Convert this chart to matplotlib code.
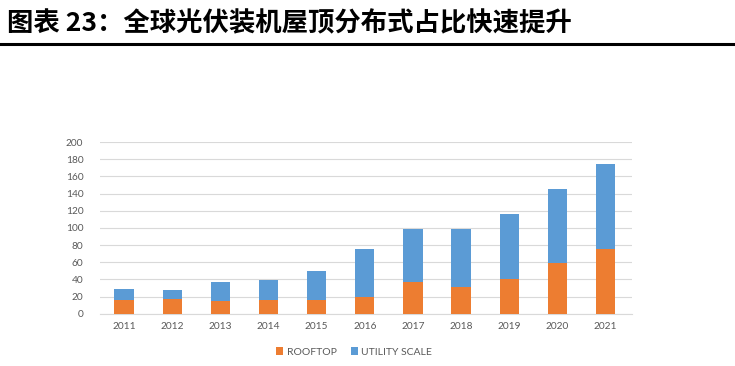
import numpy as np
import matplotlib.pyplot as plt

# Daten
years = ['2011', '2012', '2013', '2014', '2015', '2016', '2017', '2018', '2019', '2020', '2021']
rooftop = [16, 17, 15, 16, 16.5, 19, 37.5, 31.5, 41, 59, 75.5]
total = [29, 28, 36.5, 39, 50, 75, 99, 99, 116, 145, 174]
utility = [t - r for t, r in zip(total, rooftop)]

plt.rcParams['font.family'] = ['Lato', 'DejaVu Sans']

fig = plt.figure(figsize=(7.35, 3.66), dpi=100)

# Titel und Linie
fig.text(0.009, 0.935, '图表 23：全球光伏装机屋顶分布式占比快速提升', fontsize=19, fontweight='bold',
         family=['Noto Sans CJK SC', 'DejaVu Sans'], va='center', ha='left', color='black')
fig.add_artist(plt.Line2D([0, 1], [0.88, 0.88], color='black', lw=2.2))

ax = fig.add_axes([100 / 735, 1 - 313.7 / 366, 532 / 735, 171.7 / 366])
x = np.arange(len(years))
ax.bar(x, rooftop, width=0.4, color='#ED7D31', label='ROOFTOP', zorder=3)
ax.bar(x, utility, width=0.4, bottom=rooftop, color='#5B9BD5', label='UTILITY SCALE', zorder=3)

ax.set_ylim(0, 200)
ax.set_xlim(-0.5, len(years) - 0.45)
ax.set_yticks(range(0, 201, 20))
ax.set_xticks(x)
ax.set_xticklabels(years)
ax.tick_params(axis='both', length=0, labelsize=7.3, colors='#595959')
ax.tick_params(axis='y', pad=12)
ax.tick_params(axis='x', pad=6)
ax.grid(True, axis='y', color='#D9D9D9', lw=0.8, zorder=0)
for s in ['top', 'right', 'left']:
    ax.spines[s].set_visible(False)
ax.spines['bottom'].set_color('#D9D9D9')

fig.legend(loc='center', bbox_to_anchor=(0.482, 0.038), ncol=2, frameon=False, fontsize=7.5,
           handlelength=0.7, handleheight=0.7, handletextpad=0.3, columnspacing=1.4,
           labelcolor='#595959')

fig.savefig('out.png', dpi=100)
